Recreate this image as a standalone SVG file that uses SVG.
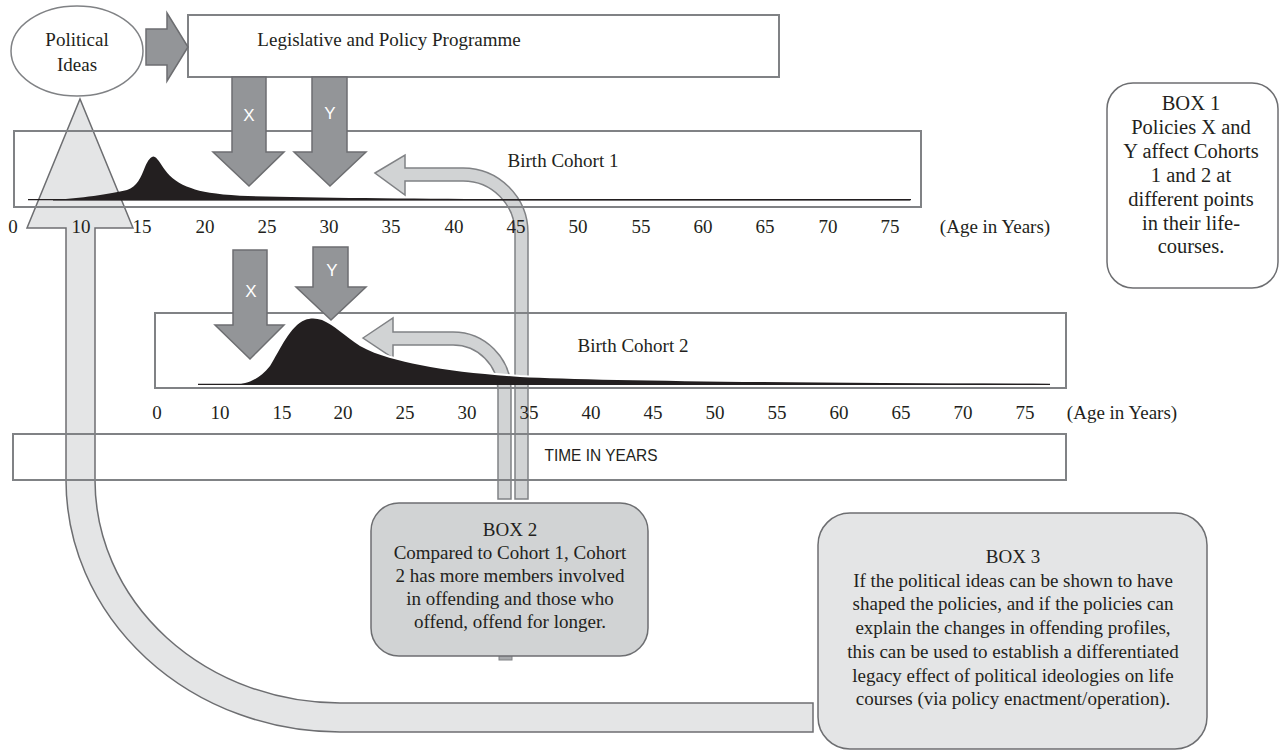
<svg xmlns="http://www.w3.org/2000/svg" width="1279" height="751" viewBox="0 0 1279 751">
<style>
.t{font-family:"Liberation Serif","Times New Roman",serif;font-size:19px;fill:#231f20;text-anchor:middle}
.b1{font-size:20.5px}
.sans{font-family:"Liberation Sans",Arial,sans-serif;font-size:17px}
.frame{fill:none;stroke:#808285;stroke-width:2}
.dk{fill:#939598;stroke:#6d6e71;stroke-width:1.5}
.lt{fill:#d1d3d4;stroke:#808285;stroke-width:1.5}
.big{fill:#e4e5e6;stroke:#6d6e71;stroke-width:1.5}
.xy{font-family:"Liberation Sans",Arial,sans-serif;font-size:17px;fill:#fff;text-anchor:middle}
.ink{fill:#231f20}
.halo{fill:none;stroke:#fff;stroke-width:4}
.base{fill:none;stroke:#231f20;stroke-width:1.3}
</style>

<g id="connectors-back">
  <path class="big" d="M95,228 L133,228 L80,99 L27,228 L66,228 L66,480 A274,252 0 0 0 340,732 L813,732 L813,703 L340,703 A245,223 0 0 1 95,480 Z"/>
  <path class="lt" d="M375,173 L405,155 L405,168 L463,168 A65,65 0 0 1 528,233 L528,499 L515,499 L515,233 A52,52 0 0 0 463,181 L405,181 L405,195 Z"/>
  <path class="lt" d="M363,338 L393,318 L393,332 L453,332 A58,58 0 0 1 511,390 L511,499 L498,499 L498,390 A45,45 0 0 0 453,345 L393,345 L393,358 Z"/>
  <rect x="499" y="654" width="13" height="6" fill="#a7a9ac" stroke="#808285" stroke-width="1"/>
</g>

<g id="cohort1-frame">
  <rect class="frame" x="14" y="131" width="907" height="76"/>
</g>
<g id="cohort2-frame">
  <rect class="frame" x="155" y="313" width="911" height="75"/>
</g>
<g id="time">
  <rect class="frame" x="13" y="434" width="1053" height="46"/>
  <text class="t sans" x="601" y="461" textLength="113" lengthAdjust="spacingAndGlyphs">TIME IN YEARS</text>
</g>

<g id="political-ideas">
  <ellipse cx="77" cy="51" rx="66" ry="45" fill="#fff" stroke="#808285" stroke-width="1.5"/>
  <text class="t" x="77" y="46">Political</text>
  <text class="t" x="77" y="71">Ideas</text>
</g>

<g id="legislative">
  <rect x="188" y="15" width="591" height="62" fill="#fff" stroke="#808285" stroke-width="2"/>
  <text class="t" x="389" y="46">Legislative and Policy Programme</text>
</g>

<g id="connectors-front">
  <path class="dk" d="M146,29 L167,29 L167,13 L188,47 L167,81 L167,65 L146,65 Z"/>
  <path class="dk" d="M232,77 L266,77 L266,152 L284,152 L249,186 L213,152 L232,152 Z"/>
  <path class="dk" d="M312,77 L347,77 L347,152 L366,152 L330,186 L294,152 L312,152 Z"/>
  <path class="dk" d="M233,250 L267,250 L267,325 L284,325 L250,359 L215,325 L233,325 Z"/>
  <path class="dk" d="M313,247 L348,247 L348,287 L366,287 L331,320 L296,287 L313,287 Z"/>
  <text class="xy" x="249" y="121">X</text>
  <text class="xy" x="330" y="119">Y</text>
  <text class="xy" x="251" y="297">X</text>
  <text class="xy" x="332" y="276">Y</text>
</g>

<g id="cohort1">
  <path class="base" d="M28,199.6 L911,199.6"/>
  <path class="ink" d="M53,200 C80,198.5 110,194 127,190 C137,187 141,177 145,167 C148,160 151,156.5 153.5,156.5 C157,157 160,163 165,170 C171,178 179,184 191,188 C201,192 215,194 240,195.8 C300,197.5 400,198.6 500,199 L910,199.3 L910,200.5 L53,200.5 Z"/>
  <text class="t" x="563" y="167">Birth Cohort 1</text>
  <g class="t">
    <text x="13" y="233">0</text><text x="81" y="233">10</text><text x="142" y="233">15</text><text x="205" y="233">20</text><text x="267" y="233">25</text><text x="329" y="233">30</text><text x="391" y="233">35</text><text x="454" y="233">40</text><text x="516" y="233">45</text><text x="578" y="233">50</text><text x="641" y="233">55</text><text x="703" y="233">60</text><text x="765" y="233">65</text><text x="828" y="233">70</text><text x="890" y="233">75</text><text x="995" y="233">(Age in Years)</text>
  </g>
</g>

<g id="cohort2">
  <path class="halo" d="M240,383.5 C252,383 262,377 270,366 C280,350 290,326 305,320 C310,318 316,318 322,320 C334,325 345,336 360,346 C378,356 400,361 420,365 C450,371 480,374 520,377 C600,381 800,383 1050,384"/>
  <path class="base" d="M198,384.3 L1050,384.3"/>
  <path class="ink" d="M232,385 C245,384.5 258,381 270,366 C280,350 290,326 305,320 C310,318 316,318 322,320 C334,325 345,336 360,346 C378,356 400,361 420,365 C450,371 480,374 520,377 C600,381 800,383 1050,384 L1050,385 Z"/>
  <text class="t" x="633" y="352">Birth Cohort 2</text>
  <g class="t">
    <text x="157" y="419">0</text><text x="220" y="419">10</text><text x="282" y="419">15</text><text x="343" y="419">20</text><text x="405" y="419">25</text><text x="467" y="419">30</text><text x="529" y="419">35</text><text x="591" y="419">40</text><text x="653" y="419">45</text><text x="715" y="419">50</text><text x="777" y="419">55</text><text x="839" y="419">60</text><text x="901" y="419">65</text><text x="963" y="419">70</text><text x="1025" y="419">75</text><text x="1122" y="419">(Age in Years)</text>
  </g>
</g>

<g id="box1">
  <rect x="1107" y="83" width="171" height="205" rx="26" fill="#fff" stroke="#6d6e71" stroke-width="1.5"/>
  <g class="t b1">
    <text x="1191" y="110">BOX 1</text>
    <text x="1191" y="134">Policies X and</text>
    <text x="1191" y="158">Y affect Cohorts</text>
    <text x="1191" y="182">1 and 2 at</text>
    <text x="1191" y="206">different points</text>
    <text x="1191" y="230">in their life-</text>
    <text x="1191" y="253">courses.</text>
  </g>
</g>

<g id="box2">
  <rect x="371" y="503" width="277" height="153" rx="28" fill="#d1d3d4" stroke="#6d6e71" stroke-width="1.5"/>
  <g class="t">
    <text x="510" y="536">BOX 2</text>
    <text x="510" y="559">Compared to Cohort 1, Cohort</text>
    <text x="510" y="582">2 has more members involved</text>
    <text x="510" y="605">in offending and those who</text>
    <text x="510" y="628">offend, offend for longer.</text>
  </g>
</g>

<g id="box3">
  <rect x="818" y="513" width="389" height="236" rx="32" fill="#e4e5e6" stroke="#6d6e71" stroke-width="1.5"/>
  <g class="t">
    <text x="1013" y="563">BOX 3</text>
    <text x="1013" y="587">If the political ideas can be shown to have</text>
    <text x="1013" y="610">shaped the policies, and if the policies can</text>
    <text x="1013" y="634">explain the changes in offending profiles,</text>
    <text x="1013" y="658">this can be used to establish a differentiated</text>
    <text x="1013" y="682">legacy effect of political ideologies on life</text>
    <text x="1013" y="705">courses (via policy enactment/operation).</text>
  </g>
</g>
</svg>
